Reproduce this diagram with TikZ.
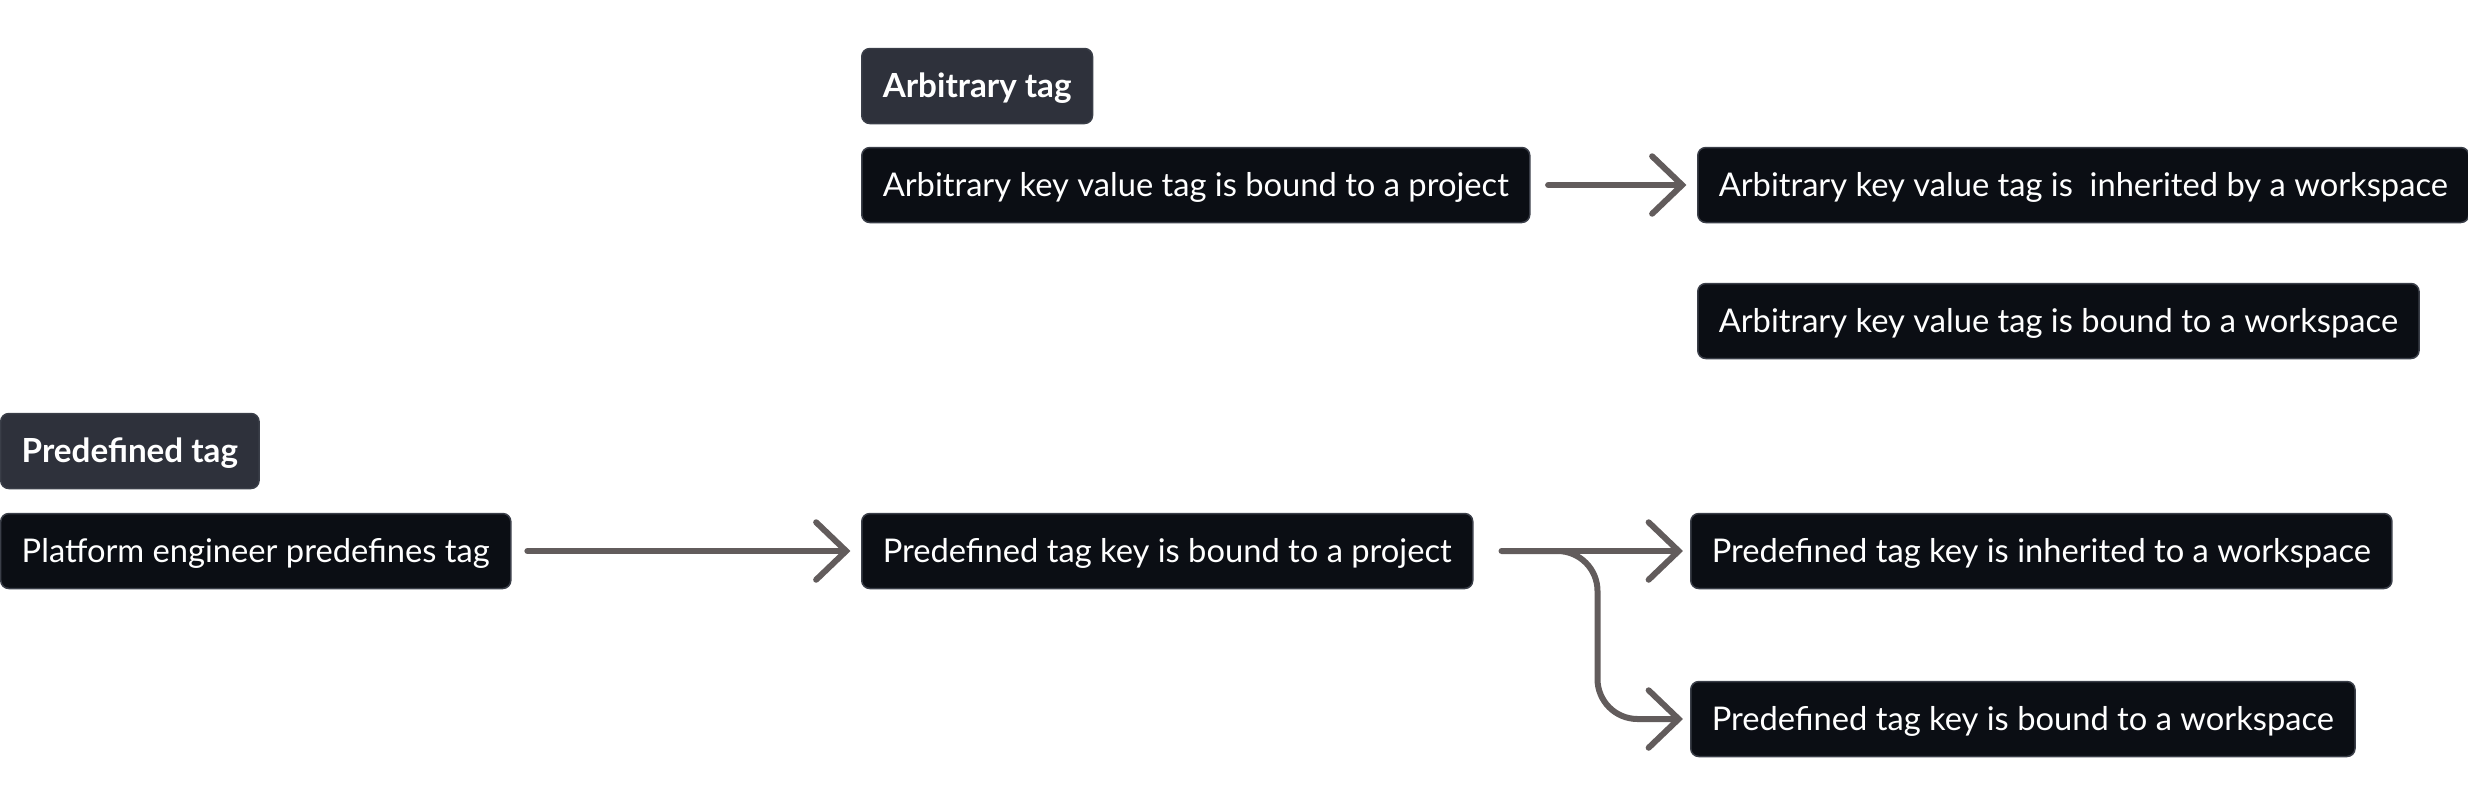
\documentclass[tikz,border=0pt]{standalone}
\usepackage{fontspec}
\setmainfont{Lato}
\usetikzlibrary{arrows.meta}
\definecolor{boxfill}{HTML}{0B0E14}
\definecolor{boxline}{HTML}{3A3E48}
\definecolor{headfill}{HTML}{2E313B}
\definecolor{flowgray}{HTML}{625C5C}
\tikzset{
	tagbox/.style={draw=boxline, line width=0.03cm, fill=boxfill, text=white, rounded corners=0.16cm, anchor=west, minimum height=1.5cm, inner xsep=0.42cm, text height=0.46cm, text depth=0pt, font=\fontsize{18.6}{20}\selectfont},
	headbox/.style={tagbox, fill=headfill, font=\fontsize{18.9}{20}\selectfont\bfseries},
	flow/.style={draw=flowgray, line width=0.12cm, line cap=round, line join=round, -{Straight Barb[length=0.6cm, width=1.15cm, line cap=round]}}
}
\begin{document}
\begin{tikzpicture}[x=0.02cm, y=-0.02cm]
	\useasboundingbox (0,0) rectangle (2468,806);
	\node[headbox] (arbtag) at (861,86) {Arbitrary tag};
	\node[tagbox] (arbproj) at (861,185) {Arbitrary key value tag is bound to a project};
	\node[tagbox] (arbinh) at (1697,185) {Arbitrary key value tag is \ inherited by a workspace};
	\node[tagbox] (arbws) at (1697,321) {Arbitrary key value tag is bound to a workspace};
	\node[headbox] (predtag) at (0,451) {Predefined tag};
	\node[tagbox] (platform) at (0,551) {Platform engineer predefines tag};
	\node[tagbox] (predproj) at (861,551) {Predefined tag key is bound to a project};
	\node[tagbox] (predinh) at (1690,551) {Predefined tag key is inherited to a workspace};
	\node[tagbox] (predws) at (1690,719) {Predefined tag key is bound to a workspace};
	\draw[flow, shorten <=10, shorten >=6] (arbproj.east) -- (arbinh.west);
	\draw[flow, shorten <=9, shorten >=6] (platform.east) -- (predproj.west);
	\draw[flow, shorten <=28, shorten >=4] (predproj.east) -- (predinh.west);
	\draw[flow, rounded corners=0.8cm, shorten >=4] (predproj.east) ++(28,0) -- ++(96,0) |- (predws.west);
\end{tikzpicture}
\end{document}
